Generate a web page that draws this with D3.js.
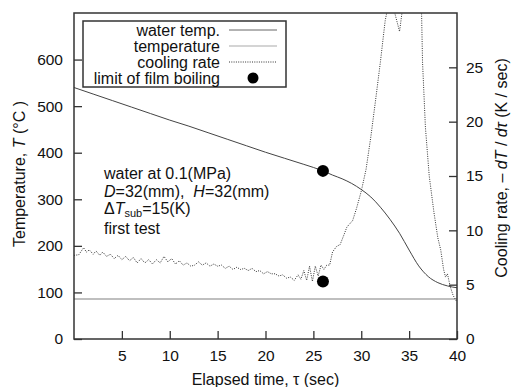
<!DOCTYPE html>
<html><head><meta charset="utf-8">
<script src="https://cdn.jsdelivr.net/npm/d3@7"></script>
<style>
html,body{margin:0;padding:0;background:#fff;}
svg{display:block;font-family:"Liberation Sans",Arial,sans-serif;}
</style></head>
<body>
<svg id="chart" width="514" height="387"></svg>
<script>
// ---- data ----
const xTicks = [5,10,15,20,25,30,35,40];
const tempTicks = [0,100,200,300,400,500,600];
const rateTicks = [0,5,10,15,20,25];

const waterTau = [0, 40];
const waterTemp = [86, 86];

const tempTau = [0,2,4,6,8,10,12,14,16,18,20,22,24,26,27,28,29,30,31,32,33,34,35,36,37,38,39,40];
const tempVal = [540,526,512,498,484,470,457,443,429,415,401,388,375,361,352,344,334,321,305,283,257,227,191,157,134,121,114,110];

const rateTau = [0,0.5,1.0,1.3,1.6,2.0,2.3,2.7,3.0,3.4,3.8,4.2,4.6,5.0,5.4,5.8,6.2,6.6,7.0,7.4,7.8,8.2,8.6,9.0,9.4,9.8,10.2,10.6,11.0,11.4,11.8,12.2,12.6,13.0,13.4,13.8,14.2,14.6,15.0,15.4,15.8,16.2,16.6,17.0,17.4,17.8,18.2,18.6,19.0,19.4,19.8,20.2,20.6,21.0,21.4,21.8,22.2,22.6,23.0,23.4,23.7,24.0,24.3,24.6,24.9,25.2,25.5,25.8,26.1,26.4,26.7,27.0,27.4,27.8,28.2,28.5,28.8,29.1,29.5,30.0,30.5,31.0,31.5,32.0,32.5,33.0,33.5,34.0,34.4,35.0,35.5,36.0,36.3,36.4,36.7,37.1,37.6,38.0,38.3,38.6,38.8,39.0,39.3,39.6,40.0];
const rateVal = [7.7,7.75,8.4,8.0,8.2,7.8,8.1,7.7,8.0,7.6,7.8,7.4,7.7,7.3,7.6,7.2,7.5,7.0,7.4,7.0,7.3,6.9,7.3,7.0,7.6,7.1,7.4,6.9,7.2,6.8,7.0,6.7,6.8,7.1,6.8,7.0,6.7,6.9,6.7,6.8,6.5,6.7,6.4,6.6,6.4,6.5,6.3,6.5,6.2,6.3,6.0,6.2,6.0,6.0,5.8,5.9,5.6,5.7,5.4,5.9,5.5,6.3,5.4,6.7,5.3,6.7,5.8,6.8,6.4,6.8,6.8,8.0,8.5,8.7,9.6,10.3,10.6,10.9,12.0,13.6,15.6,18.6,22.0,25.5,29.3,31.5,30.0,28.3,31.0,33.0,34.0,33.0,30.0,25.5,19.5,15.0,11.6,9.3,8.2,6.4,5.7,6.0,4.8,4.0,3.4];

const limitTau = 26;
const limitTemp = 361;
const limitRate = 5.3;

const legendLabels = ["water temp.", "temperature", "cooling rate", "limit of film boiling"];

// ---- layout ----
const svg = d3.select("#chart");
const L = 74, R = 457, T = 13, B = 339;
const x = d3.scaleLinear().domain([0, 40]).range([L, R]);
const yT = d3.scaleLinear().domain([0, 700]).range([B, T]);
const yR = d3.scaleLinear().domain([0, 30]).range([B, T]);
const axisColor = "#333";

svg.append("defs").append("clipPath").attr("id", "clip")
  .append("rect").attr("x", L).attr("y", T).attr("width", R - L).attr("height", B - T);

// axes
const gL = svg.append("g").attr("transform", `translate(${L},0)`)
  .call(d3.axisLeft(yT).tickValues(tempTicks).tickSize(-8).tickSizeOuter(0).tickPadding(11));
const gB = svg.append("g").attr("transform", `translate(0,${B})`)
  .call(d3.axisBottom(x).tickValues(xTicks).tickSize(-8).tickSizeOuter(0).tickPadding(11));
const gR = svg.append("g").attr("transform", `translate(${R},0)`)
  .call(d3.axisRight(yR).tickValues(rateTicks).tickSize(-8).tickSizeOuter(0).tickPadding(9));
[gL, gB, gR].forEach(g => {
  g.select(".domain").remove();
  g.selectAll(".tick line").attr("stroke", axisColor).attr("stroke-width", 1.3);
  g.selectAll(".tick text").attr("fill", "#111").style("font-size", "15.5px")
    .style("font-family", "'Liberation Sans', Arial, sans-serif");
});

// water temperature line
svg.append("path").attr("clip-path", "url(#clip)")
  .attr("d", d3.line().x(d => x(d[0])).y(d => yT(d[1]))(waterTau.map((t, i) => [t, waterTemp[i]])))
  .attr("fill", "none").attr("stroke", "#aaa").attr("stroke-width", 1.5);

// temperature curve
svg.append("path").attr("clip-path", "url(#clip)")
  .attr("d", d3.line().curve(d3.curveMonotoneX).x(d => x(d[0])).y(d => yT(d[1]))(tempTau.map((t, i) => [t, tempVal[i]])))
  .attr("fill", "none").attr("stroke", "#444").attr("stroke-width", 1);

// cooling rate
svg.append("path").attr("clip-path", "url(#clip)")
  .attr("d", d3.line().x(d => x(d[0])).y(d => yR(d[1]))(rateTau.map((t, i) => [t, rateVal[i]])))
  .attr("fill", "none").attr("stroke", "#333").attr("stroke-width", 1).attr("stroke-dasharray", "1,1.3");

// limit dots
svg.append("circle").attr("cx", x(limitTau)).attr("cy", yT(limitTemp)).attr("r", 6).attr("fill", "#000");
svg.append("circle").attr("cx", x(limitTau)).attr("cy", yR(limitRate)).attr("r", 6).attr("fill", "#000");

// frame
svg.append("rect").attr("x", L).attr("y", T).attr("width", R - L).attr("height", B - T)
  .attr("fill", "none").attr("stroke", axisColor).attr("stroke-width", 1.5);

// legend
const lg = svg.append("g");
lg.append("rect").attr("x", 83).attr("y", 21).attr("width", 203).attr("height", 66)
  .attr("fill", "#fff").attr("stroke", axisColor).attr("stroke-width", 1.5);
const rowY = [30, 46, 62, 78];
legendLabels.forEach((lab, i) => {
  lg.append("text").attr("x", 220).attr("y", rowY[i] + 5.5).attr("text-anchor", "end")
    .attr("fill", "#111").style("font-size", "16px").text(lab);
});
lg.append("line").attr("x1", 229).attr("x2", 277).attr("y1", rowY[0]).attr("y2", rowY[0]).attr("stroke", "#666").attr("stroke-width", 1);
lg.append("line").attr("x1", 229).attr("x2", 277).attr("y1", rowY[1]).attr("y2", rowY[1]).attr("stroke", "#aaa").attr("stroke-width", 1.2);
lg.append("line").attr("x1", 229).attr("x2", 277).attr("y1", rowY[2]).attr("y2", rowY[2]).attr("stroke", "#333").attr("stroke-width", 1).attr("stroke-dasharray", "1,1.3");
lg.append("circle").attr("cx", 253).attr("cy", rowY[3]).attr("r", 5.5).attr("fill", "#000");

// annotations
const ann = svg.append("g").attr("fill", "#111").style("font-size", "16px");
ann.append("text").attr("x", 104).attr("y", 179).text("water at 0.1(MPa)");
const t2 = ann.append("text").attr("x", 104).attr("y", 197);
t2.append("tspan").attr("font-style", "italic").text("D");
t2.append("tspan").text("=32(mm),\u00a0\u00a0");
t2.append("tspan").attr("font-style", "italic").text("H");
t2.append("tspan").text("=32(mm)");
const t3 = ann.append("text").attr("x", 104).attr("y", 214);
t3.append("tspan").text("\u0394");
t3.append("tspan").attr("font-style", "italic").text("T");
t3.append("tspan").attr("dy", 3).style("font-size", "11px").text("sub");
t3.append("tspan").attr("dy", -3).text("=15(K)");
ann.append("text").attr("x", 104).attr("y", 234).text("first test");

// axis titles
svg.append("text").attr("x", (L + R) / 2).attr("y", 385).attr("text-anchor", "middle")
  .attr("fill", "#111").style("font-size", "16px").text("Elapsed time, \u03c4 (sec)");
const yl = svg.append("text").attr("transform", "translate(25,174) rotate(-90)").attr("text-anchor", "middle")
  .attr("fill", "#111").style("font-size", "16px");
yl.append("tspan").text("Temperature, ");
yl.append("tspan").attr("font-style", "italic").text("T");
yl.append("tspan").text(" (\u00b0C )");
const yr = svg.append("text").attr("transform", "translate(507,168) rotate(-90)").attr("text-anchor", "middle")
  .attr("fill", "#111").style("font-size", "16px");
yr.append("tspan").text("Cooling rate, \u2013 ");
yr.append("tspan").attr("font-style", "italic").text("dT");
yr.append("tspan").text(" / ");
yr.append("tspan").attr("font-style", "italic").text("d\u03c4");
yr.append("tspan").text(" (K / sec)");
</script>
</body></html>
